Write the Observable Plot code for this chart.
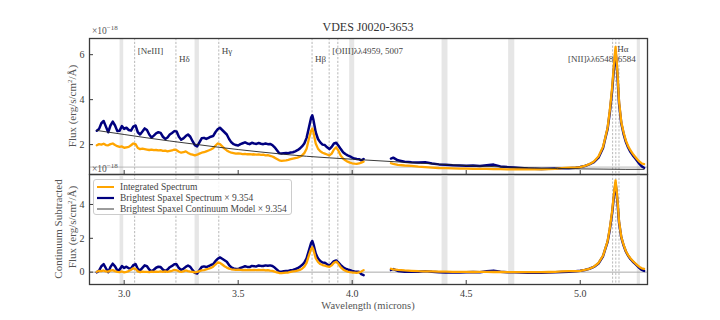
<!DOCTYPE html>
<html><head><meta charset="utf-8">
<script src="https://cdn.jsdelivr.net/npm/d3@7"></script>
<script src="https://cdn.jsdelivr.net/npm/@observablehq/plot@0.6"></script>
<style>
body{margin:0;background:#fff;}
#fig{position:relative;width:720px;height:320px;font-family:"Liberation Serif",serif;color:#444;overflow:hidden;background:#fff}
#fig svg{position:absolute;left:0;top:0}
.t{position:absolute;white-space:nowrap;line-height:1}
.c{transform:translate(-50%,-50%)}
.r{transform:translate(-50%,-50%) rotate(-90deg)}
.legend{position:absolute;left:93px;top:179px;width:199px;height:36px;border:1px solid #ccc;border-radius:3px;background:rgba(255,255,255,0.85);box-sizing:border-box;font-size:9.5px;color:#444}
.legend .row{position:absolute;left:3px;height:11px;display:flex;align-items:center}
.legend svg{position:static !important;margin-right:6px}
sup{font-size:7px;vertical-align:4px}
.off sup{font-size:7px;vertical-align:3.5px}
</style></head><body><div id="fig"></div>
<script>
// ---------- data ----------
const wlA = [2.88,2.89,2.90,2.91,2.92,2.93,2.94,2.95,2.96,2.97,
2.98,2.99,3.00,3.01,3.02,3.03,3.04,3.05,3.06,3.07,
3.08,3.09,3.10,3.11,3.12,3.13,3.14,3.15,3.16,3.17,
3.18,3.19,3.20,3.21,3.22,3.23,3.24,3.25,3.26,3.27,
3.28,3.29,3.30,3.31,3.32,3.33,3.34,3.35,3.36,3.37,
3.38,3.39,3.40,3.41,3.42,3.43,3.44,3.45,3.46,3.47,
3.48,3.49,3.50,3.51,3.52,3.53,3.54,3.55,3.56,3.57,
3.58,3.59,3.60,3.61,3.62,3.63,3.64,3.65,3.66,3.67,
3.68,3.69,3.70,3.71,3.72,3.73,3.74,3.75,3.76,3.77,
3.78,3.79,3.80,3.81,3.82,3.825,3.83,3.84,3.85,3.86,3.87,
3.88,3.89,3.90,3.91,3.92,3.93,3.94,3.95,3.96,3.97,
3.98,3.99,4.00,4.01,4.02,4.03,4.04,4.05];

const blueTopA = [2.62,2.70,2.95,3.05,2.80,2.55,2.85,3.02,2.85,2.60,
2.62,2.82,2.70,2.75,2.65,2.62,2.80,2.85,2.55,2.45,
2.58,2.72,2.65,2.45,2.32,2.40,2.50,2.55,2.52,2.35,
2.25,2.32,2.45,2.52,2.60,2.58,2.35,2.22,2.28,2.38,
2.45,2.35,2.15,1.98,1.92,2.10,2.28,2.30,2.25,2.30,
2.35,2.38,2.55,2.68,2.75,2.65,2.55,2.45,2.25,2.10,
2.02,1.98,1.96,2.02,2.06,2.10,2.05,2.02,2.08,2.05,
2.03,2.07,2.04,2.02,2.05,2.02,2.03,1.98,1.88,1.75,
1.62,1.60,1.62,1.63,1.62,1.65,1.66,1.70,1.75,1.82,
1.92,2.05,2.30,2.75,3.20,3.30,3.10,2.55,2.25,2.10,2.00,
1.98,1.88,1.80,1.90,2.05,2.08,1.95,1.80,1.66,1.58,
1.52,1.48,1.42,1.38,1.36,1.35,1.30,1.36];

const orangeTopA = [1.97,2.02,2.00,2.04,1.98,1.97,2.02,2.05,1.98,1.93,
1.90,1.92,1.86,1.88,1.90,1.97,2.05,2.02,1.85,1.80,
1.82,1.80,1.78,1.76,1.78,1.75,1.76,1.74,1.75,1.72,
1.73,1.70,1.72,1.74,1.78,1.75,1.68,1.64,1.66,1.70,
1.63,1.58,1.55,1.52,1.55,1.60,1.64,1.66,1.70,1.74,
1.78,1.84,1.95,2.05,2.02,1.92,1.82,1.74,1.68,1.64,
1.62,1.60,1.61,1.60,1.58,1.59,1.57,1.58,1.56,1.57,
1.55,1.56,1.54,1.55,1.52,1.53,1.50,1.47,1.42,1.36,
1.30,1.28,1.29,1.30,1.32,1.35,1.38,1.40,1.42,1.46,
1.52,1.62,1.82,2.25,2.62,2.72,2.55,2.05,1.82,1.70,1.64,
1.60,1.56,1.52,1.60,1.78,1.88,1.72,1.50,1.38,1.30,
1.24,1.20,1.17,1.15,1.14,1.16,1.20,1.24];

const blueSubA = [-0.01,0.09,0.35,0.47,0.23,0.00,0.31,0.50,0.34,0.10,
0.14,0.36,0.25,0.32,0.23,0.22,0.41,0.48,0.19,0.10,
0.25,0.40,0.35,0.16,0.05,0.14,0.26,0.32,0.30,0.15,
0.06,0.15,0.29,0.37,0.47,0.46,0.24,0.13,0.20,0.31,
0.39,0.31,0.12,-0.04,-0.08,0.11,0.30,0.34,0.30,0.36,
0.42,0.47,0.65,0.79,0.87,0.79,0.70,0.61,0.42,0.28,
0.22,0.19,0.18,0.25,0.30,0.35,0.31,0.30,0.37,0.35,
0.34,0.39,0.37,0.36,0.40,0.38,0.40,0.36,0.27,0.15,
0.03,0.02,0.05,0.07,0.07,0.11,0.13,0.18,0.23,0.31,
0.42,0.56,0.82,1.28,1.73,1.84,1.64,1.10,0.81,0.66,0.57,
0.56,0.46,0.39,0.50,0.65,0.69,0.56,0.42,0.29,0.21,
0.16,0.12,0.07,0.04,0.02,0.02,-0.12,-0.18];

const orangeSubA = [0.02,0.08,0.06,0.10,0.04,0.03,0.09,0.12,0.06,0.02,
0.00,0.04,-0.01,0.02,0.06,0.14,0.23,0.20,0.04,0.00,
0.03,0.02,0.01,0.00,0.03,0.01,0.03,0.02,0.04,0.02,
0.04,0.02,0.05,0.08,0.13,0.11,0.05,0.02,0.05,0.10,
0.06,0.03,0.01,-0.02,0.01,0.06,0.10,0.12,0.16,0.20,
0.25,0.32,0.45,0.57,0.55,0.45,0.35,0.27,0.21,0.17,
0.15,0.13,0.15,0.14,0.12,0.14,0.12,0.14,0.12,0.14,
0.12,0.14,0.12,0.13,0.10,0.12,0.09,0.07,0.03,-0.02,
-0.05,-0.06,-0.04,-0.03,-0.02,0.01,0.04,0.06,0.09,0.13,
0.20,0.32,0.55,0.98,1.38,1.48,1.32,0.82,0.60,0.48,0.42,
0.38,0.34,0.31,0.40,0.55,0.62,0.48,0.28,0.16,0.08,
0.03,0.00,-0.02,-0.03,-0.04,-0.02,0.04,0.12];

const wlB = [4.17,4.18,4.20,4.23,4.26,4.29,4.32,4.35,4.38,4.41,
4.44,4.47,4.50,4.53,4.56,4.59,4.62,4.65,4.68,4.71,
4.74,4.77,4.80,4.83,4.86,4.89,4.92,4.95,4.98,5.00,
5.02,5.04,5.06,5.08,5.10,5.11,5.12,5.13,5.14,5.145,
5.15,5.155,5.16,5.165,5.17,5.18,5.19,5.20,5.21,5.22,
5.23,5.24,5.25,5.26,5.27,5.28];

const blueTopB = [1.38,1.42,1.30,1.24,1.21,1.20,1.22,1.16,1.12,1.10,
1.08,1.07,1.06,1.07,1.05,1.08,1.11,1.03,1.00,0.98,
0.96,0.94,0.93,0.92,0.93,0.94,0.95,0.95,0.97,1.00,
1.05,1.12,1.22,1.42,1.85,2.28,2.70,3.45,4.40,5.05,
5.65,6.15,5.55,4.75,3.85,2.95,2.48,2.12,1.87,1.68,
1.53,1.40,1.27,1.14,1.03,0.97];

const orangeTopB = [1.17,1.14,1.10,1.07,1.05,1.02,1.00,0.98,0.96,0.95,
0.94,0.93,0.93,0.92,0.92,0.92,0.91,0.91,0.90,0.90,
0.90,0.90,0.90,0.90,0.91,0.92,0.95,0.98,0.98,1.00,
1.05,1.13,1.25,1.47,1.90,2.32,2.75,3.55,4.55,5.20,
5.85,6.35,5.70,4.90,3.95,3.00,2.55,2.18,1.93,1.75,
1.60,1.47,1.35,1.24,1.16,1.13];

const blueSubB = [0.13,0.18,0.07,0.03,0.02,0.02,0.06,0.02,-0.01,-0.02,
-0.02,-0.02,-0.01,0.01,0.00,0.05,0.09,0.02,0.00,-0.01,
-0.02,-0.03,-0.03,-0.03,-0.02,0.00,0.01,0.02,0.05,0.08,
0.13,0.20,0.31,0.51,0.94,1.37,1.79,2.54,3.49,4.14,
4.75,5.25,4.65,3.85,2.95,2.05,1.58,1.22,0.97,0.78,
0.63,0.50,0.37,0.24,0.13,0.07];

const orangeSubB = [0.20,0.16,0.13,0.10,0.08,0.06,0.05,0.04,0.03,0.03,
0.02,0.02,0.02,0.01,0.02,0.02,0.01,0.01,0.00,0.00,
0.00,0.00,0.00,0.00,0.01,0.02,0.04,0.06,0.06,0.08,
0.13,0.20,0.32,0.54,0.97,1.40,1.83,2.62,3.62,4.27,
4.92,5.42,4.77,3.97,3.02,2.08,1.62,1.25,1.00,0.82,
0.67,0.54,0.42,0.31,0.23,0.20];

const wlCont = [2.88,3.0,3.1,3.2,3.3,3.4,3.5,3.6,3.7,3.8,3.9,4.0,4.1,4.2,4.3,4.4,4.5,4.6,4.7,4.8,4.9,5.0,5.1,5.2,5.28];
const contModel = [2.63,2.45,2.30,2.16,2.03,1.90,1.78,1.67,1.57,1.48,1.41,1.35,1.29,1.23,1.17,1.12,1.07,1.03,0.99,0.96,0.94,0.92,0.91,0.90,0.90];

const bandLo = [2.982,3.311,3.989,4.394,4.686,5.250];
const bandHi = [2.998,3.330,4.011,4.420,4.713,5.264];

const lineWl = [3.046,3.227,3.415,3.824,3.899,3.937,5.142,5.156,5.170];
const upperLabels = ["[NeIII]","Hγ","[OIII]λλ4959, 5007"];
const upperLabelWl = [3.046,3.415,3.899];
const lowerLabels = ["Hδ","Hβ"];
const lowerLabelWl = [3.227,3.824];
const haLabel = ["Hα"]; const haLabelWl = [5.156];
const niiLabel = ["[NII]λλ6548, 6584"]; const niiLabelWl = [5.142];

const xTicks = [3.0,3.5,4.0,4.5,5.0];
const yTicksTop = [2,4,6];
const yTicksBottom = [0,2,4];
const topRef = [1];
const bottomRef = [0];
const scaleFactor = "9.354";

// ---------- build ----------
const rows = (wl, vals, seg) => wl.map((w, i) => ({w, v: vals[i], seg}));
const blueTop = rows(wlA, blueTopA, "A").concat(rows(wlB, blueTopB, "B"));
const orangeTop = rows(wlA, orangeTopA, "A").concat(rows(wlB, orangeTopB, "B"));
const blueSub = rows(wlA, blueSubA, "A").concat(rows(wlB, blueSubB, "B"));
const orangeSub = rows(wlA, orangeSubA, "A").concat(rows(wlB, orangeSubB, "B"));
const cont = rows(wlCont, contModel, "C");
const bands = bandLo.map((lo, i) => ({lo, hi: bandHi[i]}));

const ORANGE = "#ffa500", NAVY = "#00007f", AX = "#3a3a3a";
const xDomain = [2.848, 5.295];
const style = {fontFamily: "'Liberation Serif', serif", fontSize: "10px", color: "#555", background: "transparent", overflow: "visible"};
const common = (extra) => [
  Plot.rect(bands, {x1: "lo", x2: "hi", fill: "#e6e6e6"}),
  Plot.ruleX(lineWl, {stroke: "#9a9a9a", strokeWidth: 0.7, strokeDasharray: "2.2,1.6"}),
  ...extra
];
const LBL = {fontSize: 9, fill: "#444", frameAnchor: "top"};

const topPlot = Plot.plot({
  width: 720, height: 320,
  marginLeft: 89, marginRight: 73, marginTop: 38, marginBottom: 146,
  style,
  x: {domain: xDomain},
  y: {domain: [0.67, 6.72]},
  marks: common([
    Plot.ruleY(topRef, {stroke: "#a8a8a8", strokeWidth: 0.8}),
    Plot.text(upperLabels, {...LBL, x: upperLabelWl, dy: 9, dx: 3, textAnchor: "start"}),
    Plot.text(lowerLabels, {...LBL, x: lowerLabelWl, dy: 17, dx: 3, textAnchor: "start"}),
    Plot.text(haLabel, {...LBL, x: haLabelWl, dy: 7.5, dx: 1.5, textAnchor: "start"}),
    Plot.text(niiLabel, {...LBL, x: niiLabelWl, dy: 17, dx: -44.5, textAnchor: "start"}),
    Plot.line(blueTop, {x: "w", y: "v", z: "seg", stroke: NAVY, strokeWidth: 2.5, clip: true}),
    Plot.line(orangeTop, {x: "w", y: "v", z: "seg", stroke: ORANGE, strokeWidth: 2.3, clip: true}),
    Plot.line(cont, {x: "w", y: "v", stroke: "#222", strokeWidth: 0.9, clip: true}),
    Plot.axisY(yTicksTop, {anchor: "left", tickSize: -4, tickPadding: 9, label: null, color: AX, fontSize: 10}),
    Plot.axisX(xTicks, {anchor: "bottom", tickSize: -4, tickFormat: () => "", label: null, color: AX}),
    Plot.frame({stroke: AX, strokeWidth: 1.3})
  ])
});

const bottomPlot = Plot.plot({
  width: 720, height: 320,
  marginLeft: 89, marginRight: 73, marginTop: 174, marginBottom: 36,
  style,
  x: {domain: xDomain},
  y: {domain: [-0.73, 5.77]},
  marks: common([
    Plot.ruleY(bottomRef, {stroke: "#a0a0a0", strokeWidth: 0.9}),
    Plot.line(blueSub, {x: "w", y: "v", z: "seg", stroke: NAVY, strokeWidth: 2.5, clip: true}),
    Plot.line(orangeSub, {x: "w", y: "v", z: "seg", stroke: ORANGE, strokeWidth: 2.3, clip: true}),
    Plot.axisY(yTicksBottom, {anchor: "left", tickSize: -4, tickPadding: 9, label: null, color: AX, fontSize: 10}),
    Plot.axisX(xTicks, {anchor: "bottom", tickSize: -4, tickPadding: 9, tickFormat: d => d.toFixed(1), label: null, color: AX, fontSize: 10}),
    Plot.frame({stroke: AX, strokeWidth: 1.3})
  ])
});

const fig = document.getElementById("fig");
fig.appendChild(topPlot);
fig.appendChild(bottomPlot);

function addText(html, x, y, cls, css) {
  const d = document.createElement("div");
  d.className = "t " + cls;
  d.innerHTML = html;
  d.style.left = x + "px"; d.style.top = y + "px";
  Object.assign(d.style, css || {});
  fig.appendChild(d);
}
addText("VDES J0020-3653", 368, 27, "c", {fontSize: "12px", color: "#333"});
addText("×10<sup>−18</sup>", 92, 25, "off", {fontSize: "9.5px", color: "#555"});
addText("×10<sup>−18</sup>", 92, 163, "off", {fontSize: "9.5px", color: "#555"});
addText("Flux (erg/s/cm<sup>2</sup>/Å)", 72, 106, "r", {fontSize: "11px", color: "#555"});
addText("Continuum Subtracted", 58, 229, "r", {fontSize: "11px", color: "#555"});
addText("Flux (erg/s/cm<sup>2</sup>/Å)", 72, 227, "r", {fontSize: "11px", color: "#555"});
addText("Wavelength (microns)", 368, 306, "c", {fontSize: "10.5px", color: "#555"});

// legend
const legendItems = [
  {label: "Integrated Spectrum", color: ORANGE, w: 2},
  {label: "Brightest Spaxel Spectrum × " + scaleFactor, color: NAVY, w: 2.2},
  {label: "Brightest Spaxel Continuum Model × " + scaleFactor, color: "#222", w: 0.9}
];
const lg = document.createElement("div");
lg.className = "legend";
legendItems.forEach((it, i) => {
  const r = document.createElement("div");
  r.className = "row";
  r.style.top = (1 + i * 11.3) + "px";
  r.innerHTML = `<svg width="17" height="8"><line x1="0" x2="17" y1="4" y2="4" stroke="${it.color}" stroke-width="${it.w}"/></svg><span>${it.label}</span>`;
  lg.appendChild(r);
});
fig.appendChild(lg);
</script>
</body></html>
